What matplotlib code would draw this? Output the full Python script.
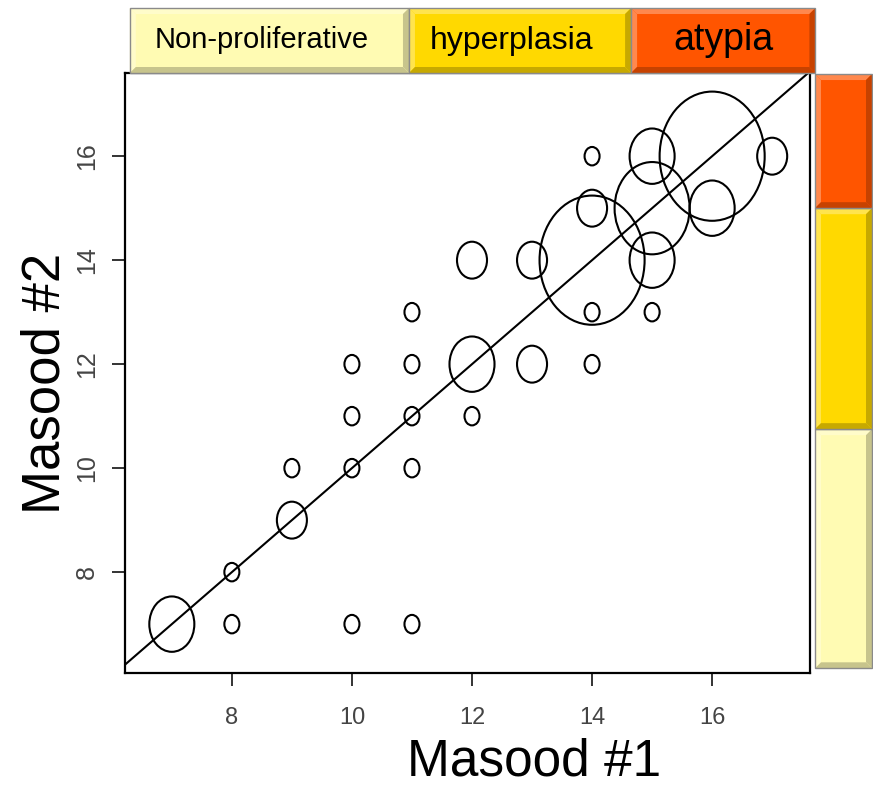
import matplotlib
matplotlib.use("Agg")
import matplotlib.pyplot as plt
from matplotlib import colors as mcolors
from matplotlib.patches import Ellipse, Polygon, Rectangle

plt.rcParams['font.family'] = ['Liberation Sans', 'DejaVu Sans']

# 数据: 两位读片者的评分及病例数
masood1 = [7, 8, 8, 9, 9, 10, 10, 10, 10, 11, 11, 11, 11, 11, 12, 12, 12, 13, 13,
           14, 14, 14, 14, 14, 15, 15, 15, 15, 16, 16, 17]
masood2 = [7, 8, 7, 10, 9, 12, 11, 10, 7, 13, 12, 11, 10, 7, 14, 12, 11, 14, 12,
           16, 15, 14, 13, 12, 16, 15, 14, 13, 16, 15, 16]
counts = [3, 1, 1, 1, 2, 1, 1, 1, 1, 1, 1, 1, 1, 1, 2, 3, 1, 2, 2,
          1, 2, 7, 1, 1, 3, 5, 3, 1, 7, 3, 2]

categories = ['Non-proliferative', 'hyperplasia', 'atypia']
cat_colors = ['#FFFBB3', '#FFD900', '#FF5500']
cat_fontsize = [21, 23, 27]
x_bounds = [6.3, 10.95, 14.65, 17.72]
y_bounds = [6.15, 10.75, 15.0, 17.58]
ticks = [8, 10, 12, 14, 16]

W, H = 873, 788
fig = plt.figure(figsize=(W / 100, H / 100), dpi=100)
ax = fig.add_axes([125 / W, 1 - 673 / H, 685 / W, 600 / H])
ax.set_xlim(6.22, 17.63)
ax.set_ylim(6.06, 17.6)

# 圆圈大小与病例数成正比
for x, y, c in zip(masood1, masood2, counts):
    ax.add_patch(Ellipse((x, y), width=0.25 * c, height=0.355 * c,
                         fill=False, ec='black', lw=1.5))
ax.axline((8, 8), (16, 16), color='black', lw=1.5)

ax.set_xticks(ticks)
ax.set_yticks(ticks)
ax.tick_params(axis='both', direction='out', length=9.5, width=1.4, color='#333333',
               labelcolor='#444444')
ax.tick_params(axis='x', labelsize=17, pad=15)
ax.tick_params(axis='y', labelsize=18, pad=9)
for lab in ax.get_yticklabels():
    lab.set_rotation(90)
    lab.set_va('center')
for s in ax.spines.values():
    s.set_linewidth(1.6)

fig.text(534 / W, 1 - 775 / H, 'Masood #1', fontsize=37, ha='center', va='baseline')
fig.text(46 / W, 1 - 383 / H, 'Masood #2', fontsize=38, ha='center', va='center',
         rotation=90)

to_fig = fig.transFigure.inverted()


def bevel_box(x0, y0, x1, y1, color):
    bx, by = 6 / W, 6 / H
    base = mcolors.to_rgb(color)
    light = tuple(0.7 * v + 0.3 for v in base)
    dark = tuple(0.78 * v for v in base)
    fig.add_artist(Rectangle((x0, y0), x1 - x0, y1 - y0, transform=fig.transFigure,
                             fc=color, ec='none'))
    polys = [
        ([(x0, y1), (x1, y1), (x1 - bx, y1 - by), (x0 + bx, y1 - by)], light),
        ([(x0, y0), (x0, y1), (x0 + bx, y1 - by), (x0 + bx, y0 + by)], light),
        ([(x0, y0), (x1, y0), (x1 - bx, y0 + by), (x0 + bx, y0 + by)], dark),
        ([(x1, y0), (x1, y1), (x1 - bx, y1 - by), (x1 - bx, y0 + by)], dark),
    ]
    for pts, col in polys:
        fig.add_artist(Polygon(pts, closed=True, transform=fig.transFigure,
                               fc=col, ec='none'))
    fig.add_artist(Rectangle((x0, y0), x1 - x0, y1 - y0, transform=fig.transFigure,
                             fill=False, ec='#8a8a8a', lw=1))


# 上方分类条 (Masood #1)
top0, top1 = 1 - 73 / H, 1 - 8 / H
for i, name in enumerate(categories):
    fx0 = to_fig.transform(ax.transData.transform((x_bounds[i], 10)))[0]
    fx1 = to_fig.transform(ax.transData.transform((x_bounds[i + 1], 10)))[0]
    bevel_box(fx0, top0, fx1, top1, cat_colors[i])
    fig.text((fx0 + fx1) / 2 - 8 / W * (i < 2), (top0 + top1) / 2, name,
             fontsize=cat_fontsize[i], ha='center', va='center')

# 右侧分类条 (Masood #2)
r0, r1 = 815 / W, 872 / W
for i in range(len(categories)):
    fy0 = to_fig.transform(ax.transData.transform((10, y_bounds[i])))[1]
    fy1 = to_fig.transform(ax.transData.transform((10, y_bounds[i + 1])))[1]
    bevel_box(r0, fy0, r1, fy1, cat_colors[i])

fig.savefig('out.png', dpi=100)
